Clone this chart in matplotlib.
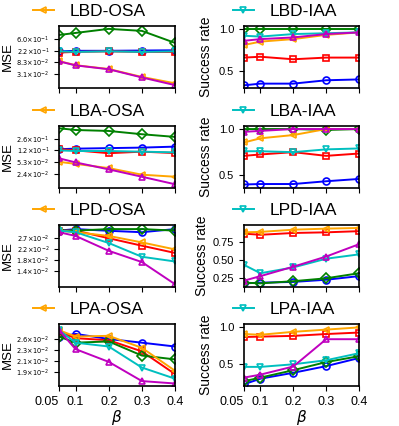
import matplotlib
matplotlib.use('Agg')
import matplotlib.pyplot as plt

plt.rcParams['font.family'] = ['Liberation Sans', 'DejaVu Sans']
plt.rcParams['mathtext.fontset'] = 'dejavusans'

beta = [0.05, 0.1, 0.2, 0.3, 0.4]
beta_labels = ['0.05', '0.1', '0.2', '0.3', '0.4']

series_colors = ['blue', 'red', 'green', 'orange', 'c', 'm']
series_markers = ['o', 's', 'D', '<', 'v', '^']

# MSE panels (left column), one list per series in the order above
lbd_osa = [
    [0.21, 0.22, 0.22, 0.225, 0.23],
    [0.19, 0.20, 0.21, 0.20, 0.20],
    [0.84, 1.00, 1.41, 1.19, 0.43],
    [0.092, 0.065, 0.047, 0.024, 0.014],
    [0.21, 0.20, 0.21, 0.20, 0.21],
    [0.090, 0.064, 0.046, 0.023, 0.012],
]
lba_osa = [
    [0.13, 0.135, 0.14, 0.145, 0.155],
    [0.13, 0.12, 0.099, 0.11, 0.10],
    [0.54, 0.48, 0.45, 0.36, 0.30],
    [0.055, 0.048, 0.036, 0.023, 0.020],
    [0.12, 0.115, 0.115, 0.11, 0.105],
    [0.070, 0.053, 0.033, 0.020, 0.012],
]
lpd_osa = [
    [0.032, 0.033, 0.0319, 0.031, 0.033],
    [0.032, 0.032, 0.0275, 0.0237, 0.0205],
    [0.032, 0.032, 0.033, 0.033, 0.032],
    [0.032, 0.031, 0.0288, 0.0253, 0.022],
    [0.032, 0.031, 0.025, 0.019, 0.0173],
    [0.031, 0.0288, 0.0214, 0.0171, 0.011],
]
lpa_osa = [
    [0.0265, 0.0273, 0.026, 0.0251, 0.0242],
    [0.0278, 0.0262, 0.0257, 0.0231, 0.0186],
    [0.0266, 0.0251, 0.0254, 0.0222, 0.0214],
    [0.0283, 0.0266, 0.0268, 0.0239, 0.0192],
    [0.0283, 0.0251, 0.0242, 0.0198, 0.0178],
    [0.0283, 0.0236, 0.0209, 0.0174, 0.0170],
]

# success rate panels (right column)
lbd_iaa = [
    [0.33, 0.35, 0.35, 0.39, 0.40],
    [0.66, 0.67, 0.64, 0.66, 0.66],
    [1.0, 1.0, 1.0, 1.0, 1.0],
    [0.81, 0.85, 0.88, 0.93, 0.96],
    [0.92, 0.91, 0.94, 0.95, 0.96],
    [0.86, 0.88, 0.90, 0.94, 0.96],
]
lba_iaa = [
    [0.40, 0.405, 0.405, 0.435, 0.46],
    [0.71, 0.725, 0.75, 0.71, 0.735],
    [1.0, 1.0, 1.0, 0.99, 1.0],
    [0.855, 0.90, 0.935, 1.0, 1.0],
    [0.76, 0.76, 0.75, 0.78, 0.79],
    [0.97, 0.98, 1.0, 1.0, 1.0],
]
lpd_iaa = [
    [0.18, 0.19, 0.20, 0.23, 0.28],
    [0.866, 0.85, 0.875, 0.884, 0.90],
    [0.19, 0.18, 0.21, 0.25, 0.32],
    [0.884, 0.89, 0.92, 0.935, 0.944],
    [0.435, 0.32, 0.40, 0.52, 0.58],
    [0.217, 0.28, 0.41, 0.55, 0.72],
]
lpa_iaa = [
    [0.22, 0.295, 0.375, 0.465, 0.575],
    [0.86, 0.865, 0.875, 0.90, 0.92],
    [0.26, 0.31, 0.41, 0.52, 0.60],
    [0.90, 0.89, 0.93, 0.96, 0.99],
    [0.455, 0.455, 0.49, 0.545, 0.64],
    [0.31, 0.35, 0.46, 0.83, 0.83],
]

mse_panels = [lbd_osa, lba_osa, lpd_osa, lpa_osa]
sr_panels = [lbd_iaa, lba_iaa, lpd_iaa, lpa_iaa]
mse_names = ['LBD-OSA', 'LBA-OSA', 'LPD-OSA', 'LPA-OSA']
sr_names = ['LBD-IAA', 'LBA-IAA', 'LPD-IAA', 'LPA-IAA']

# log-spaced MSE ticks and their printed labels
mse_ticks = [
    [0.031, 0.083, 0.22, 0.60],
    [0.024, 0.053, 0.12, 0.26],
    [0.0142, 0.0177, 0.0220, 0.0274],
    [0.0190, 0.0211, 0.0234, 0.0260],
]
mse_ticklabels = [
    [r'$3.1{\times}10^{-2}$', r'$8.3{\times}10^{-2}$', r'$2.2{\times}10^{-1}$', r'$6.0{\times}10^{-1}$'],
    [r'$2.4{\times}10^{-2}$', r'$5.3{\times}10^{-2}$', r'$1.2{\times}10^{-1}$', r'$2.6{\times}10^{-1}$'],
    [r'$1.4{\times}10^{-2}$', r'$1.8{\times}10^{-2}$', r'$2.2{\times}10^{-2}$', r'$2.7{\times}10^{-2}$'],
    [r'$1.9{\times}10^{-2}$', r'$2.1{\times}10^{-2}$', r'$2.3{\times}10^{-2}$', r'$2.6{\times}10^{-2}$'],
]
mse_ylims = [(0.0094, 1.8), (0.0093, 0.63), (0.0104, 0.0358), (0.0166, 0.030)]
sr_ticks = [[0.5, 1.0], [0.5, 1.0], [0.25, 0.50, 0.75], [0.5, 1.0]]
sr_ticklabels = [['0.5', '1.0'], ['0.5', '1.0'], ['0.25', '0.50', '0.75'], ['0.5', '1.0']]
sr_ylims = [(0.298, 1.036), (0.362, 1.033), (0.13, 0.985), (0.196, 1.036)]

W, H = 399, 426
fig = plt.figure(figsize=(W / 100, H / 100), dpi=100)

row_tops = [26, 126, 225, 324]
ax_h = 62
cols = [(59, 175), (244, 359)]


def px_axes(x0, x1, top):
    return fig.add_axes([x0 / W, 1 - (top + ax_h) / H, (x1 - x0) / W, ax_h / H])


def draw(ax, data, hl):
    handle = None
    for i, ys in enumerate(data):
        ln, = ax.plot(beta, ys, color=series_colors[i], marker=series_markers[i],
                      markersize=5, markerfacecolor='none', markeredgewidth=1.2,
                      linewidth=1.4)
        if i == hl:
            handle = ln
    ax.set_xlim(0.05, 0.4)
    ax.set_xticks(beta)
    for s in ax.spines.values():
        s.set_linewidth(1.2)
    return handle


def bottom_labels(ax):
    labs = ax.set_xticklabels(beta_labels, fontsize=9)
    labs[0].set_horizontalalignment('right')
    ax.set_xlabel(r'$\beta$', fontsize=11, labelpad=0)


for r in range(4):
    # left: MSE
    ax = px_axes(cols[0][0], cols[0][1], row_tops[r])
    ax.set_yscale('log')
    h = draw(ax, mse_panels[r], 3)
    ax.set_ylim(*mse_ylims[r])
    ax.set_yticks(mse_ticks[r])
    ax.set_yticklabels(mse_ticklabels[r], fontsize=4.8)
    ax.yaxis.set_minor_locator(matplotlib.ticker.NullLocator())
    ax.set_ylabel('MSE', fontsize=9.5)
    ax.yaxis.set_label_coords(-0.385, 0.5)
    ax.legend([h], [mse_names[r]], loc='center left', frameon=False,
              bbox_to_anchor=(33 / W, 1 - (row_tops[r] - 15) / H),
              bbox_transform=fig.transFigure, fontsize=12.5,
              handlelength=1.2, handletextpad=0.9, borderaxespad=0, borderpad=0)
    if r == 3:
        bottom_labels(ax)
    else:
        ax.set_xticklabels([])

    # right: success rate
    ax = px_axes(cols[1][0], cols[1][1], row_tops[r])
    h = draw(ax, sr_panels[r], 4)
    ax.set_ylim(*sr_ylims[r])
    ax.set_yticks(sr_ticks[r])
    ax.set_yticklabels(sr_ticklabels[r], fontsize=8)
    ax.set_ylabel('Success rate', fontsize=10)
    ax.yaxis.set_label_coords(-0.27 if r != 2 else -0.30, 0.5)
    ax.legend([h], [sr_names[r]], loc='center left', frameon=False,
              bbox_to_anchor=(233 / W, 1 - (row_tops[r] - 15) / H),
              bbox_transform=fig.transFigure, fontsize=12.5,
              handlelength=1.2, handletextpad=0.9, borderaxespad=0, borderpad=0)
    if r == 3:
        bottom_labels(ax)
    else:
        ax.set_xticklabels([])

fig.savefig('out.png', dpi=100)
